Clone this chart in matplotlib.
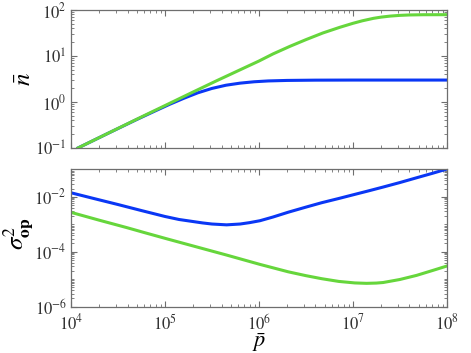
import numpy as np
import matplotlib
matplotlib.use("Agg")
import matplotlib.pyplot as plt
from matplotlib.ticker import LogLocator, NullFormatter, FuncFormatter

# ---- data (log10 values) ----
# top panel: mean photon number n_bar vs p_bar
n_green_logp = [4.074, 4.30, 4.50, 4.80, 5.00, 5.30, 5.55, 5.80, 6.00, 6.15, 6.33, 6.50, 6.68, 6.86, 7.00, 7.10, 7.22, 7.30, 7.40, 7.50, 7.60, 7.75, 8.00]
n_green_logn = [-1.000, -0.774, -0.574, -0.275, -0.078, 0.218, 0.462, 0.700, 0.890, 1.045, 1.210, 1.355, 1.500, 1.623, 1.710, 1.765, 1.819, 1.845, 1.868, 1.883, 1.892, 1.897, 1.898]

n_blue_logp = [4.074, 4.40, 4.70, 4.90, 5.05, 5.20, 5.35, 5.50, 5.65, 5.80, 5.95, 6.10, 6.30, 6.60, 7.00, 8.00]
n_blue_logn = [-1.000, -0.675, -0.380, -0.190, -0.050, 0.080, 0.200, 0.295, 0.365, 0.410, 0.440, 0.458, 0.469, 0.475, 0.477, 0.477]

# bottom panel: sigma^2_op vs p_bar
s_blue_logp = [4.00, 4.25, 4.50, 4.75, 5.00, 5.15, 5.30, 5.40, 5.50, 5.656, 5.80, 5.90, 6.011, 6.15, 6.312, 6.50, 6.667, 6.85, 7.021, 7.17, 7.322, 7.50, 7.678, 7.85, 8.00]
s_blue_logs = [-1.852, -2.067, -2.280, -2.500, -2.715, -2.825, -2.900, -2.950, -2.990, -3.020, -2.990, -2.940, -2.870, -2.735, -2.560, -2.375, -2.215, -2.060, -1.910, -1.780, -1.644, -1.480, -1.306, -1.140, -0.989]

s_green_logp = [4.00, 4.30, 4.593, 4.80, 5.032, 5.301, 5.656, 6.011, 6.312, 6.50, 6.667, 6.85, 7.021, 7.145, 7.25, 7.322, 7.50, 7.678, 7.85, 8.00]
s_green_logs = [-2.565, -2.850, -3.120, -3.320, -3.540, -3.790, -4.120, -4.460, -4.730, -4.870, -4.980, -5.080, -5.135, -5.150, -5.140, -5.120, -5.010, -4.860, -4.680, -4.520]

xlim = (1e4, 1e8)
top_ylim = (1e-1, 1e2)
bot_ylim = (1e-6, 1e-1)

BLUE = "#0a37f5"
GREEN = "#66d63c"

plt.rcParams["font.family"] = ["STIXGeneral", "DejaVu Serif"]
plt.rcParams["mathtext.fontset"] = "stix"


def sci(v, pos):
    e = int(round(np.log10(v)))
    return r"$\mathrm{10^{%d}}$" % e


fig = plt.figure(figsize=(4.71, 3.53), dpi=100)
ax1 = fig.add_axes([0.1507, 0.5807, 0.798, 0.391])
ax2 = fig.add_axes([0.1507, 0.1312, 0.798, 0.389])

ax1.plot(10 ** np.array(n_blue_logp), 10 ** np.array(n_blue_logn), color=BLUE, lw=2.2)
ax1.plot(10 ** np.array(n_green_logp), 10 ** np.array(n_green_logn), color=GREEN, lw=2.2)
ax2.plot(10 ** np.array(s_blue_logp), 10 ** np.array(s_blue_logs), color=BLUE, lw=2.2)
ax2.plot(10 ** np.array(s_green_logp), 10 ** np.array(s_green_logs), color=GREEN, lw=2.2)

for ax, yl in ((ax1, top_ylim), (ax2, bot_ylim)):
    ax.set_xscale("log")
    ax.set_yscale("log")
    ax.set_xlim(*xlim)
    ax.set_ylim(*yl)
    for s in ax.spines.values():
        s.set_color("#6e6e6e")
        s.set_linewidth(0.9)
    ax.tick_params(which="both", direction="in", top=True, right=True, color="#6e6e6e",
                   labelsize=12, labelcolor="#333333")
    ax.tick_params(which="major", length=4, width=0.8)
    ax.tick_params(which="minor", length=2, width=0.6)
    ax.tick_params(axis="x", pad=5)
    ax.tick_params(axis="y", pad=3)
    ax.xaxis.set_major_locator(LogLocator(base=10, numticks=10))
    ax.xaxis.set_minor_locator(LogLocator(base=10, subs=np.arange(2, 10), numticks=20))
    ax.yaxis.set_minor_locator(LogLocator(base=10, subs=np.arange(2, 10), numticks=20))
    ax.xaxis.set_minor_formatter(NullFormatter())
    ax.yaxis.set_minor_formatter(NullFormatter())
    ax.xaxis.set_major_formatter(FuncFormatter(sci))
    ax.yaxis.set_major_formatter(FuncFormatter(sci))

ax1.yaxis.set_major_locator(LogLocator(base=10, numticks=10))
ax1.tick_params(axis="x", labelbottom=False)
ax2.set_yticks([1e-6, 1e-4, 1e-2])
ax2.yaxis.set_major_formatter(FuncFormatter(sci))
ax2.yaxis.set_minor_locator(LogLocator(base=10, subs=np.arange(1, 10), numticks=20))

ax1.set_ylabel(r"$\bar{n}$", fontsize=18)
ax1.yaxis.set_label_coords(-0.09, 0.5)
ax2.set_ylabel(r"$\sigma^2_{\mathbf{op}}$", fontsize=18)
ax2.yaxis.set_label_coords(-0.095, 0.53)
ax2.set_xlabel(r"$\bar{p}$", fontsize=16)
ax2.xaxis.set_label_coords(0.5, -0.175)

fig.savefig("out.png", dpi=100)
